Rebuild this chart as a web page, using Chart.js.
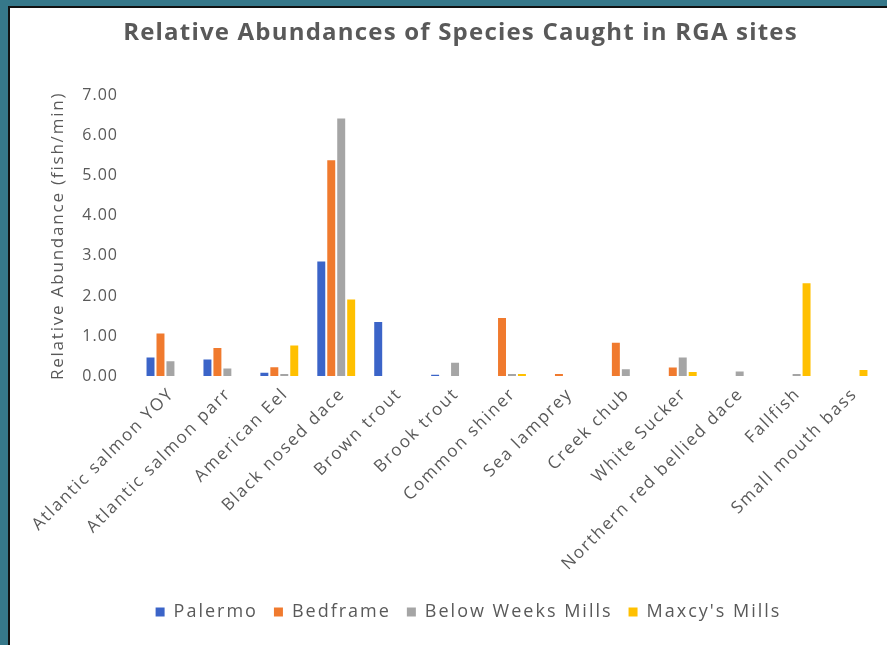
<!DOCTYPE html>
<html>
<head>
<meta charset="utf-8">
<script src="https://cdn.jsdelivr.net/npm/chart.js@4/dist/chart.umd.min.js"></script>
<style>
  html, body { margin: 0; padding: 0; }
  body { width: 887px; height: 645px; background: #36788a; position: relative; overflow: hidden; }
  #panel {
    position: absolute; left: 8px; top: 6px; width: 879px; height: 639px;
    background: #ffffff; border-left: 2px solid #111; border-top: 2px solid #111;
    box-sizing: border-box;
  }
  #wrap { position: absolute; left: 0; top: 0; width: 877px; height: 637px; }
</style>
</head>
<body>
<div id="panel"><div id="wrap"><canvas id="c"></canvas></div></div>
<script>
// Species sampled at each site
const species = [
  'Atlantic salmon YOY', 'Atlantic salmon parr', 'American Eel', 'Black nosed dace',
  'Brown trout', 'Brook trout', 'Common shiner', 'Sea lamprey', 'Creek chub',
  'White Sucker', 'Northern red bellied dace', 'Fallfish', 'Small mouth bass'
];

// Relative abundance (fish/min) per site
const palermo     = [0.46, 0.41, 0.08, 2.86, 1.35, 0.03, 0.00, 0.00, 0.00, 0.00, 0.00, 0.00, 0.00];
const bedframe    = [1.06, 0.70, 0.22, 5.39, 0.00, 0.00, 1.45, 0.05, 0.83, 0.21, 0.00, 0.00, 0.00];
const belowWeeks  = [0.37, 0.19, 0.05, 6.43, 0.00, 0.33, 0.05, 0.00, 0.17, 0.46, 0.11, 0.05, 0.00];
const maxcysMills = [0.00, 0.00, 0.76, 1.91, 0.00, 0.00, 0.05, 0.00, 0.00, 0.10, 0.00, 2.32, 0.15];

const yTicks = [0, 1, 2, 3, 4, 5, 6, 7];

const grey = '#595959';

// Wide, airy lettering: tracking chosen per font size
const tracking = { 24: '1.2px', 18: '2px', 17: '1.8px', 16: '1px' };
const canvas = document.getElementById('c');
const ctx2d = canvas.getContext('2d');
const fontDesc = Object.getOwnPropertyDescriptor(CanvasRenderingContext2D.prototype, 'font');
Object.defineProperty(ctx2d, 'font', {
  get() { return fontDesc.get.call(this); },
  set(v) {
    fontDesc.set.call(this, v);
    const m = /(\d+(?:\.\d+)?)px/.exec(v);
    this.letterSpacing = (m && tracking[Math.round(+m[1])]) || '0px';
  }
});

// Nudge the legend row a little to the right of the title's centre line
const legendShift = {
  id: 'legendShift',
  afterLayout(chart) {
    const lg = chart.legend;
    if (!lg) return;
    lg.left += 8; lg.right += 8;
    if (lg.legendHitBoxes) lg.legendHitBoxes.forEach(b => { b.left += 8; });
  }
};

new Chart(canvas, {
  type: 'bar',
  data: {
    labels: species,
    datasets: [
      { label: 'Palermo', data: palermo, backgroundColor: '#3b64c8' },
      { label: 'Bedframe', data: bedframe, backgroundColor: '#f07a2e' },
      { label: 'Below Weeks Mills', data: belowWeeks, backgroundColor: '#a5a5a5' },
      { label: "Maxcy's Mills", data: maxcysMills, backgroundColor: '#ffc000' }
    ]
  },
  plugins: [legendShift],
  options: {
    responsive: true,
    maintainAspectRatio: false,
    animation: false,
    layout: { padding: { left: 34, right: 10, top: 0, bottom: 14 } },
    datasets: { bar: { categoryPercentage: 0.70, barPercentage: 0.8 } },
    plugins: {
      title: {
        display: true,
        text: 'Relative Abundances of Species Caught in RGA sites',
        color: grey,
        font: { family: 'Open Sans', size: 24, weight: 'bold' },
        padding: { top: 11, bottom: 48 }
      },
      legend: {
        position: 'bottom',
        labels: {
          color: grey,
          font: { family: 'Open Sans', size: 18 },
          boxWidth: 9, boxHeight: 9,
          padding: 16
        }
      },
      tooltip: { enabled: false }
    },
    scales: {
      x: {
        grid: { display: false, drawTicks: false },
        border: { display: false },
        afterFit: (axis) => { axis.height = 211; },
        ticks: {
          color: grey,
          font: { family: 'Open Sans', size: 17 },
          minRotation: 45, maxRotation: 45,
          autoSkip: false,
          labelOffset: 6,
          padding: 8
        }
      },
      y: {
        min: 0, max: 7,
        grid: { display: false, drawTicks: false },
        border: { display: false },
        afterBuildTicks: (axis) => { axis.ticks = yTicks.map(v => ({ value: v })); },
        afterFit: (axis) => { axis.width = 93; },
        ticks: {
          color: grey,
          font: { family: 'Open Sans', size: 16 },
          padding: 19,
          callback: (v) => Number(v).toFixed(2)
        },
        title: {
          display: true,
          text: 'Relative Abundance (fish/min)',
          color: grey,
          font: { family: 'Open Sans', size: 17 },
          padding: { top: 4, bottom: 0 }
        }
      }
    }
  }
});
</script>
</body>
</html>
